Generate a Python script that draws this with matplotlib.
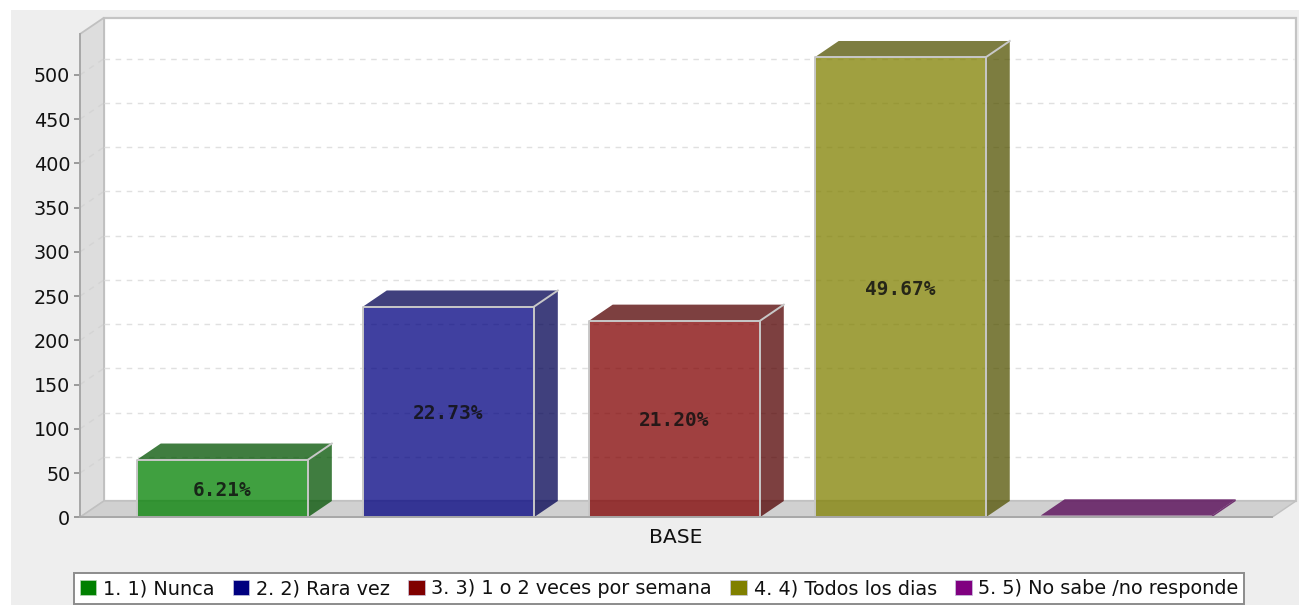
import matplotlib
matplotlib.use('Agg')
import matplotlib.pyplot as plt
from matplotlib.patches import Polygon, Rectangle, Patch

# data
categories = ['1. 1) Nunca', '2. 2) Rara vez', '3. 3) 1 o 2 veces por semana',
              '4. 4) Todos los dias', '5. 5) No sabe /no responde']
values = [65, 238, 222, 520, 2]
pct_labels = ['6.21%', '22.73%', '21.20%', '49.67%', '']
colors = ['#008000', '#000080', '#800000', '#808000', '#800080']
dark_colors = ['#005200', '#000052', '#520000', '#525200', '#520052']
yticks = list(range(0, 501, 50))
group_label = 'BASE'

# 3d look, in data units
DEPTH_X = 0.106
DEPTH_Y = 18.4
BAR_W = 0.757
ALPHA = 0.75
EDGE = '#c8c8c8'
AXIS = '#a8a8a8'

fig = plt.figure(figsize=(12.99, 6.05), dpi=100, facecolor='white')
fig.patches.append(Rectangle((11 / 1299, 0), 1288 / 1299, 595 / 605,
                             transform=fig.transFigure, facecolor='#eeeeee',
                             edgecolor='none', zorder=-5))

ax = fig.add_axes([80 / 1299, 87.7 / 605, 1192 / 1299, 483.3 / 605])
ax.patch.set_visible(False)
ax.set_xlim(-0.63, 4.645)
ax.set_ylim(0, 546.3)
x0, x1 = ax.get_xlim()
y0, y1 = ax.get_ylim()

# back wall, left wall, floor
ax.add_patch(Polygon([(x0 + DEPTH_X, y0 + DEPTH_Y), (x1 + DEPTH_X, y0 + DEPTH_Y),
                      (x1 + DEPTH_X, y1 + DEPTH_Y), (x0 + DEPTH_X, y1 + DEPTH_Y)],
                     facecolor='white', edgecolor='#c4c4c4', lw=1.6, clip_on=False, zorder=1))
ax.add_patch(Polygon([(x0, y0), (x0 + DEPTH_X, y0 + DEPTH_Y),
                      (x0 + DEPTH_X, y1 + DEPTH_Y), (x0, y1)],
                     facecolor='#dddddd', edgecolor='#c0c0c0', lw=1.3, clip_on=False, zorder=1))
ax.add_patch(Polygon([(x0, y0), (x1, y0), (x1 + DEPTH_X, y0 + DEPTH_Y), (x0 + DEPTH_X, y0 + DEPTH_Y)],
                     facecolor='#d0d0d0', edgecolor='#c0c0c0', lw=1.0, clip_on=False, zorder=1))

# grid
for t in yticks[1:]:
    ax.plot([x0 + DEPTH_X, x1 + DEPTH_X - 0.01], [t + DEPTH_Y, t + DEPTH_Y], color='#e0e0e0',
            lw=1.0, ls=(0, (4, 4)), clip_on=False, zorder=2)
    ax.plot([x0, x0 + DEPTH_X], [t, t + DEPTH_Y], color='#d4d4d4',
            lw=1.0, ls=(0, (4, 4)), clip_on=False, zorder=2)

# bars
for i, v in enumerate(values):
    left = i - BAR_W / 2
    right = i + BAR_W / 2
    ax.add_patch(Polygon([(left, v), (right, v), (right + DEPTH_X, v + DEPTH_Y), (left + DEPTH_X, v + DEPTH_Y)],
                         facecolor=dark_colors[i], alpha=ALPHA, edgecolor='none',
                         clip_on=False, zorder=3))
    ax.add_patch(Polygon([(right, 0), (right + DEPTH_X, DEPTH_Y), (right + DEPTH_X, v + DEPTH_Y), (right, v)],
                         facecolor=dark_colors[i], alpha=ALPHA, edgecolor='none',
                         clip_on=False, zorder=3))
    ax.bar(i, v, width=BAR_W, color=colors[i], alpha=ALPHA, zorder=4, clip_on=False)
    if v > 10:
        # light outline of the box
        ax.plot([left, left, right, right], [0, v, v, 0], color=EDGE, lw=1.4, zorder=5)
        ax.plot([right, right + DEPTH_X], [v, v + DEPTH_Y], color=EDGE, lw=1.4, zorder=5, clip_on=False)
    if pct_labels[i]:
        ax.text(i, v / 2 - 2, pct_labels[i], ha='center', va='center', family='DejaVu Sans Mono',
                fontweight='bold', fontsize=14, color='#111111', alpha=0.85, zorder=6)

# axes
for name in ['top', 'right', 'left', 'bottom']:
    ax.spines[name].set_visible(False)
ax.plot([x0 - 0.0, x1], [0, 0], color=AXIS, lw=1.4, zorder=6, clip_on=False)
ax.plot([x0, x0], [0, y1], color=AXIS, lw=1.4, zorder=6, clip_on=False)
ax.set_yticks(yticks)
ax.set_xticks([(x0 + x1) / 2])
ax.set_xticklabels([group_label])
ax.tick_params(axis='y', length=4, width=1.2, color='#8c8c8c', labelsize=13.8, labelcolor='#111111', pad=3)
ax.tick_params(axis='x', length=0, labelsize=14.6, labelcolor='#111111', pad=8)

handles = [Patch(facecolor=c, edgecolor='#b8d8b8' if c == '#008000' else '#c8c8e0', lw=0.5) for c in colors]
leg = fig.legend(handles, categories, loc='lower left', bbox_to_anchor=(74 / 1299, 1 / 605),
                 ncol=5, fontsize=13.9, frameon=True, fancybox=False, framealpha=1,
                 edgecolor='#8c8c8c', borderpad=0.3, handlelength=0.85, handleheight=0.85,
                 handletextpad=0.35, columnspacing=0.95, borderaxespad=0, labelcolor='#111111')
leg.get_frame().set_linewidth(1.4)

fig.savefig('out.png', dpi=100, facecolor=fig.get_facecolor())
